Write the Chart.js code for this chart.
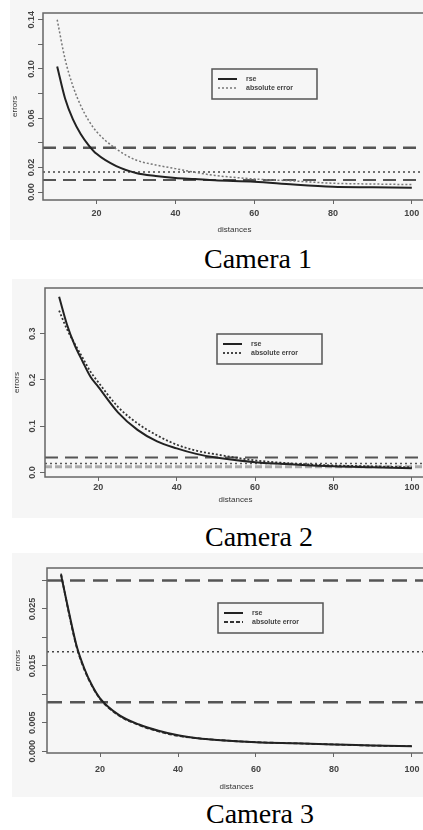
<!DOCTYPE html>
<html>
<head>
<meta charset="utf-8">
<script src="https://cdn.jsdelivr.net/npm/chart.js@4.4.1/dist/chart.umd.min.js"></script>
<style>
html, body { margin: 0; padding: 0; width: 423px; height: 830px; overflow: hidden; background: #fff; }
.bg { position: absolute; background: #f6f6f6; }
.box { position: absolute; left: 0; width: 440px; }
.cap { position: absolute; width: 200px; text-align: center; font-family: 'Liberation Serif', serif; font-size: 28px; line-height: 28px; color: #000; }
</style>
</head>
<body>
<div class="bg" style="left:10px;top:0;width:413px;height:240px"></div>
<div class="bg" style="left:12px;top:279px;width:411px;height:239px"></div>
<div class="bg" style="left:12px;top:553px;width:411px;height:244px"></div>

<div class="box" style="top:0;height:240px"><canvas id="cam1"></canvas></div>
<div class="box" style="top:275px;height:242px"><canvas id="cam2"></canvas></div>
<div class="box" style="top:555px;height:238px"><canvas id="cam3"></canvas></div>

<div class="cap" style="left:158px;top:245px">Camera 1</div>
<div class="cap" style="left:159px;top:523px">Camera 2</div>
<div class="cap" style="left:160px;top:800px">Camera 3</div>

<script>
// distances where the error curves were read
const distances = [10, 12, 14, 16, 18, 20, 25, 30, 35, 40, 45, 50, 60, 70, 80, 90, 100];

const cam1Rse = [0.102, 0.076, 0.059, 0.047, 0.038, 0.031, 0.021, 0.0155, 0.013, 0.0114, 0.0105, 0.0095, 0.0084, 0.006, 0.0042, 0.0038, 0.0034];
const cam1Abs = [0.140, 0.108, 0.086, 0.070, 0.058, 0.049, 0.035, 0.026, 0.022, 0.019, 0.016, 0.0135, 0.0106, 0.009, 0.0071, 0.0065, 0.006];
const cam1Refs = [0.036, 0.0163, 0.0098];

const cam2Rse = [0.38, 0.32, 0.275, 0.24, 0.207, 0.185, 0.13, 0.092, 0.067, 0.052, 0.040, 0.032, 0.022, 0.017, 0.013, 0.011, 0.009];
const cam2Abs = [0.35, 0.31, 0.278, 0.248, 0.218, 0.195, 0.142, 0.106, 0.080, 0.060, 0.047, 0.039, 0.026, 0.019, 0.015, 0.013, 0.011];
const cam2Refs = [0.032, 0.019, 0.012];

const cam3Rse = [0.031, 0.0245, 0.0185, 0.0145, 0.0115, 0.0093, 0.0063, 0.0047, 0.0036, 0.0028, 0.0023, 0.002, 0.0016, 0.0014, 0.0012, 0.001, 0.0009];
const cam3Abs = [0.0312, 0.0243, 0.0183, 0.0143, 0.0114, 0.0092, 0.0062, 0.0046, 0.0035, 0.0027, 0.0023, 0.002, 0.0016, 0.0014, 0.0012, 0.001, 0.0009];
const cam3Refs = [0.030, 0.0175, 0.0086];

const xTicks = [20, 40, 60, 80, 100];
const xMin = 6.4, xMax = 103.6;

const cam1YTicks = [0, 0.02, 0.04, 0.06, 0.08, 0.10, 0.12, 0.14];
const cam1YLabels = [0, 0.02, 0.06, 0.10, 0.14];
const cam2YTicks = [0, 0.1, 0.2, 0.3];
const cam2YLabels = [0, 0.1, 0.2, 0.3];
const cam3YTicks = [0, 0.005, 0.010, 0.015, 0.020, 0.025, 0.030];
const cam3YLabels = [0, 0.005, 0.015, 0.025];

// frame, rotated y labels and legend box, R style
const rStyle = {
    id: 'rStyle',
    afterDraw(chart, args, o) {
        const ctx = chart.ctx;
        const a = chart.chartArea;
        const y = chart.scales.y;
        ctx.save();
        ctx.strokeStyle = '#666';
        ctx.lineWidth = 1.5;
        ctx.setLineDash([]);
        ctx.strokeRect(a.left, a.top, a.right - a.left, a.bottom - a.top);

        ctx.fillStyle = '#444';
        ctx.font = 'bold 9px "Liberation Sans"';
        ctx.textAlign = 'center';
        ctx.textBaseline = 'middle';
        o.labels.forEach(v => {
            ctx.save();
            ctx.translate(a.left - o.gap, y.getPixelForValue(v));
            ctx.rotate(-Math.PI / 2);
            ctx.fillText(v.toFixed(o.digits), 0, 0);
            ctx.restore();
        });

        const lx = a.left + o.legend[0], ly = a.top + o.legend[1];
        ctx.strokeStyle = '#555';
        ctx.lineWidth = 1.5;
        ctx.strokeRect(lx, ly, 105, 30);
        ctx.font = 'bold 7px "Liberation Sans"';
        ctx.textAlign = 'left';
        chart.data.datasets.slice(0, 2).forEach((ds, i) => {
            const yy = ly + 10 + i * 9;
            ctx.strokeStyle = ds.borderColor;
            ctx.lineWidth = ds.borderWidth;
            ctx.setLineDash(ds.borderDash || []);
            ctx.beginPath();
            ctx.moveTo(lx + 6, yy);
            ctx.lineTo(lx + 25, yy);
            ctx.stroke();
            ctx.fillStyle = '#444';
            ctx.fillText(ds.label, lx + 34, yy);
        });
        ctx.restore();
    }
};

function makePanel(id, rse, abs, refs, yMin, yMax, yTicks, yLabels, look) {
    const pts = arr => distances.map((d, i) => ({x: d, y: arr[i]}));
    const refSets = refs.map((r, i) => ({
        label: 'ref',
        data: [{x: xMin, y: r}, {x: xMax, y: r}],
        borderColor: look.refColor[i],
        borderWidth: look.refWidth[i],
        borderDash: look.refDash[i],
        pointRadius: 0
    }));
    new Chart(document.getElementById(id), {
        type: 'line',
        data: {
            datasets: [{
                label: 'rse',
                data: pts(rse),
                borderColor: '#222',
                borderWidth: 2,
                pointRadius: 0,
                cubicInterpolationMode: 'monotone'
            }, {
                label: 'absolute error',
                data: pts(abs),
                borderColor: look.absColor,
                borderWidth: look.absWidth,
                borderDash: look.absDash,
                pointRadius: 0,
                cubicInterpolationMode: 'monotone'
            }].concat(refSets)
        },
        options: {
            responsive: true,
            maintainAspectRatio: false,
            animation: false,
            layout: {padding: {top: 13, right: 14, left: 0, bottom: 0}},
            plugins: {
                legend: {display: false},
                tooltip: {enabled: false},
                rStyle: {labels: yLabels, digits: look.digits, gap: look.gap, legend: look.legend}
            },
            scales: {
                x: {
                    type: 'linear', min: xMin, max: xMax,
                    afterBuildTicks: s => { s.ticks = xTicks.map(v => ({value: v})); },
                    afterFit: s => { s.height = 40; },
                    grid: {drawOnChartArea: false, tickLength: 4, color: '#666'},
                    border: {display: false},
                    ticks: {font: {family: 'Liberation Sans', size: 9, weight: 'bold'}, color: '#444', padding: look.xPad, maxRotation: 0, autoSkip: false},
                    title: {display: true, text: 'distances', font: {family: 'Liberation Sans', size: 8}, color: '#333', padding: {top: 0, bottom: look.xTitle}}
                },
                y: {
                    type: 'linear', min: yMin, max: yMax,
                    afterBuildTicks: s => { s.ticks = yTicks.map(v => ({value: v})); },
                    afterFit: s => { s.width = look.left; },
                    grid: {drawOnChartArea: false, tickLength: 5, color: '#666'},
                    border: {display: false},
                    ticks: {display: false},
                    title: {display: true, text: 'errors', font: {family: 'Liberation Sans', size: 8}, color: '#333', padding: {top: look.yTitle, bottom: 0}}
                }
            }
        },
        plugins: [rStyle]
    });
}

makePanel('cam1', cam1Rse, cam1Abs, cam1Refs, -0.0065, 0.1455, cam1YTicks, cam1YLabels, {
    left: 43, digits: 2, gap: 11, legend: [169, 56], xPad: 4, xTitle: 5, yTitle: 10,
    absColor: '#777', absWidth: 1.5, absDash: [2, 2],
    refColor: ['#555', '#444', '#555'], refWidth: [2.5, 1.5, 2], refDash: [[13, 7], [2, 3], [13, 7]]
});
makePanel('cam2', cam2Rse, cam2Abs, cam2Refs, -0.01, 0.399, cam2YTicks, cam2YLabels, {
    left: 45, digits: 1, gap: 12, legend: [172, 46], xPad: 1, xTitle: 12, yTitle: 12,
    absColor: '#333', absWidth: 1.8, absDash: [2, 2],
    refColor: ['#555', '#555', '#aaa'], refWidth: [2, 1.5, 3], refDash: [[13, 7], [2, 3], [7, 3]]
});
makePanel('cam3', cam3Rse, cam3Abs, cam3Refs, -0.0003, 0.0322, cam3YTicks, cam3YLabels, {
    left: 47, digits: 3, gap: 14, legend: [171, 35], xPad: 7, xTitle: 1, yTitle: 13,
    absColor: '#333', absWidth: 1.8, absDash: [4, 2],
    refColor: ['#555', '#444', '#555'], refWidth: [2.5, 1.5, 2.5], refDash: [[15, 8], [2, 3], [15, 8]]
});
</script>
</body>
</html>
